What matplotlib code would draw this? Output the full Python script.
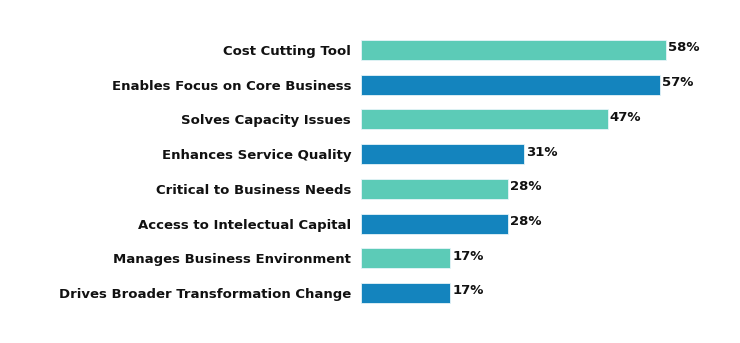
import matplotlib
matplotlib.use("Agg")
import matplotlib.pyplot as plt

categories = [
    "Cost Cutting Tool",
    "Enables Focus on Core Business",
    "Solves Capacity Issues",
    "Enhances Service Quality",
    "Critical to Business Needs",
    "Access to Intelectual Capital",
    "Manages Business Environment",
    "Drives Broader Transformation Change",
]
values = [58, 57, 47, 31, 28, 28, 17, 17]
value_labels = ["58%", "57%", "47%", "31%", "28%", "28%", "17%", "17%"]

teal = "#5ccbb7"
blue = "#1484be"
colors = [teal if i % 2 == 0 else blue for i in range(len(values))]

fig = plt.figure(figsize=(7.4, 3.43), dpi=100)
ax = fig.add_axes([0.4875, 0.0952, 0.4973, 0.8096])

y = list(range(len(values)))
ax.barh(y, values, height=0.58, color=colors, edgecolor="#e6f4f8", linewidth=0.6)
ax.set_xlim(0, 70)
ax.set_ylim(len(values) - 0.5, -0.5)

font = "DejaVu Sans"
for yi, v, lab in zip(y, values, value_labels):
    ax.annotate(lab, (v, yi), xytext=(1.5, 1.5), textcoords="offset points",
                va="center", ha="left", fontsize=9.5, fontweight="bold",
                family=font, color="#111111")

ax.set_yticks(y)
ax.set_yticklabels(categories, fontsize=9.5, fontweight="bold", family=font, color="#111111")
ax.tick_params(axis="y", length=0, pad=7)
ax.set_xticks([])
for s in ax.spines.values():
    s.set_visible(False)

fig.savefig("out.png", dpi=100, facecolor="white")
